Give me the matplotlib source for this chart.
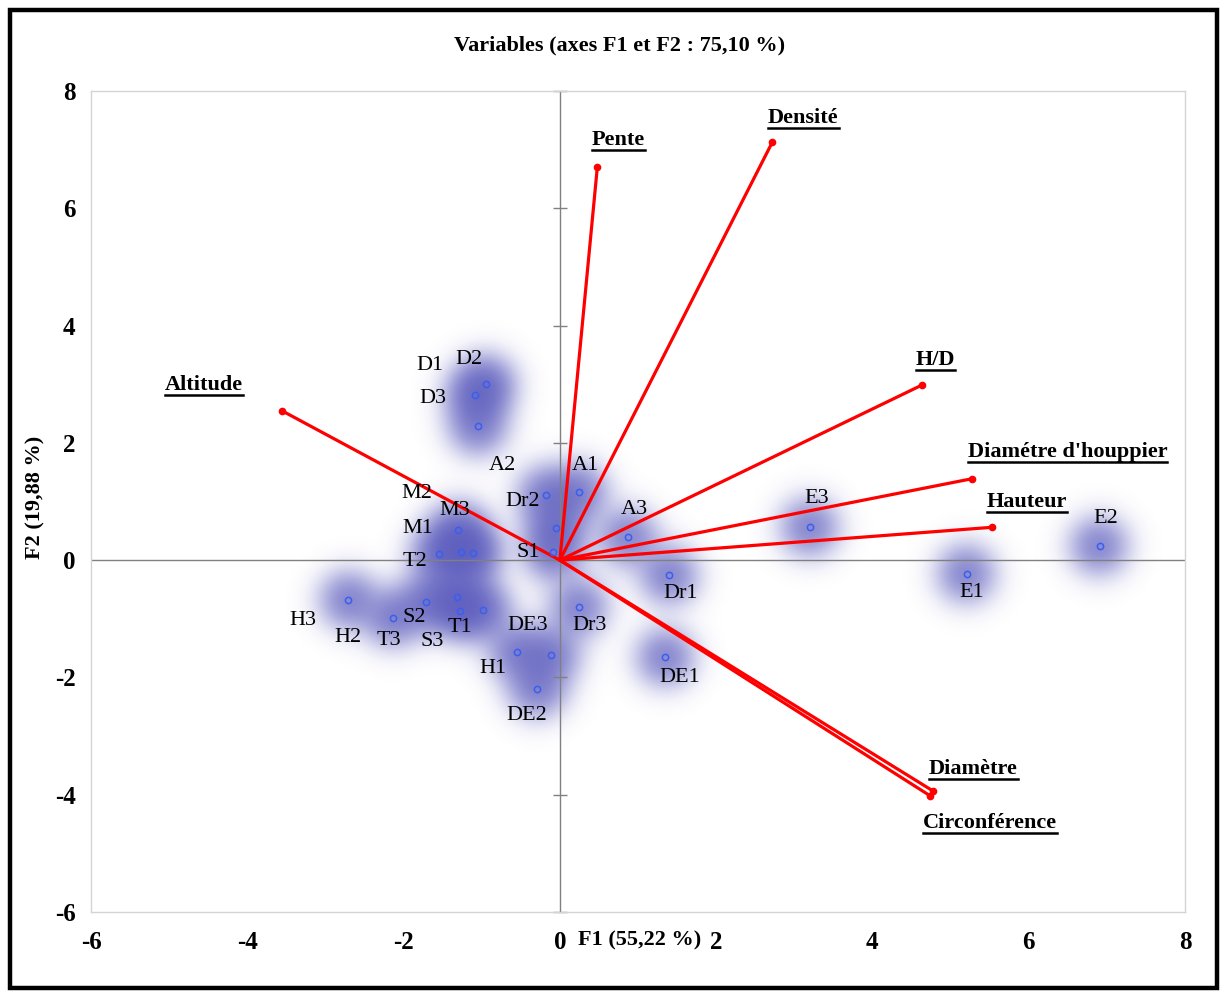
import numpy as np
import matplotlib
matplotlib.use('Agg')
import matplotlib.pyplot as plt
from matplotlib.patches import Rectangle
from matplotlib.lines import Line2D
from matplotlib import transforms

plt.rcParams['font.family'] = ['Liberation Serif', 'DejaVu Serif']
plt.rcParams['axes.unicode_minus'] = False

# Variables (cercle des corrélations, échelle biplot)
var_noms = ['Altitude', 'Pente', 'Densité', 'H/D', "Diamétre d'houppier",
            'Hauteur', 'Diamètre', 'Circonférence']
var_f1 = [-3.56, 0.48, 2.72, 4.64, 5.28, 5.53, 4.78, 4.74]
var_f2 = [2.55, 6.71, 7.13, 2.99, 1.39, 0.56, -3.94, -4.02]

# Observations
obs_noms = ['D2', 'D1', 'D3', 'Dr2', 'A2', 'A1', 'S1', 'M3', 'T2', 'M1', 'M2',
            'H3', 'H2', 'T3', 'S2', 'T1', 'S3', 'H1', 'DE3', 'DE2', 'Dr3',
            'A3', 'Dr1', 'DE1', 'E3', 'E1', 'E2']
obs_f1 = [-0.94, -1.09, -1.05, -0.18, -0.05, 0.24, -0.09, -1.30, -1.55, -1.26, -1.11,
          -2.71, -2.14, -1.71, -1.32, -1.28, -0.98, -0.55, -0.11, -0.29, 0.24,
          0.87, 1.40, 1.35, 3.20, 5.21, 6.91]
obs_f2 = [3.01, 2.82, 2.28, 1.11, 0.54, 1.16, 0.14, 0.51, 0.10, 0.14, 0.12,
          -0.68, -0.99, -0.72, -0.63, -0.86, -0.85, -1.57, -1.61, -2.20, -0.80,
          0.39, -0.26, -1.66, 0.56, -0.23, 0.24]

ticks = [-6, -4, -2, 0, 2, 4, 6, 8]

# décalage des étiquettes (pixels)
var_dec = [(-78, 21), (21, 22), (31, 19), (13, 20), (95, 22), (35, 20), (40, 17), (60, -32)]
obs_dec = [(-17, 24), (-45, 29), (-45, 28), (-23, -6), (-54, 63), (7, 27), (-25, -1),
           (-4, 20), (-24, -7), (-44, 23), (-56, 60), (-45, -20), (-45, -19), (-37, -38),
           (-42, -20), (0, -17), (-51, -32), (-24, -16), (-24, 29), (-10, -26), (11, -18),
           (7, 28), (11, -18), (14, -20), (7, 29), (5, -19), (6, 28)]

fig = plt.figure(figsize=(12.27, 9.98), dpi=100)
ax = fig.add_axes([91 / 1227, 1 - 912 / 998, 1094 / 1227, 821 / 998])
ax.set_xlim(-6, 8)
ax.set_ylim(-6, 8)

# halos bleus flous autour des observations
gx = np.linspace(-6, 8, 550)
gy = np.linspace(-6, 8, 420)
XX, YY = np.meshgrid(gx, gy)
sx = 19 / 78.14
sy = 19 / 58.66
dens = np.zeros_like(XX)
for x, y in zip(obs_f1, obs_f2):
    dens += np.exp(-((XX - x) ** 2 / (2 * sx ** 2) + (YY - y) ** 2 / (2 * sy ** 2)))
img = np.zeros(XX.shape + (4,))
img[..., 0] = 0.30
img[..., 1] = 0.30
img[..., 2] = 0.72
img[..., 3] = 0.92 * (1 - np.exp(-1.2 * dens))
ax.imshow(img, extent=(-6, 8, -6, 8), origin='lower', aspect='auto',
          interpolation='bilinear', zorder=1)

# axes centraux
ax.axhline(0, color='#808080', lw=1, zorder=2)
ax.axvline(0, color='#808080', lw=1, zorder=2)
ax.plot([0] * len(ticks), ticks, ls='none', marker='_', ms=10, color='#808080',
        mew=1, zorder=2, clip_on=False)

# vecteurs des variables
for x, y in zip(var_f1, var_f2):
    ax.plot([0, x], [0, y], color='#ff0000', lw=2.3, solid_capstyle='round', zorder=3)
    ax.plot([x], [y], 'o', color='#ff0000', ms=4.5, zorder=3)

# observations
ax.plot(obs_f1, obs_f2, 'o', ls='none', mfc='none', mec='#3a5ff0', ms=4.5, mew=1.1, zorder=4)
for nom, x, y, (dx, dy) in zip(obs_noms, obs_f1, obs_f2, obs_dec):
    tr = transforms.offset_copy(ax.transData, fig=fig, x=dx, y=dy, units='dots')
    ax.text(x, y, nom, transform=tr, ha='center', va='center', fontsize=16, zorder=5)

var_txt = []
for nom, x, y, (dx, dy) in zip(var_noms, var_f1, var_f2, var_dec):
    tr = transforms.offset_copy(ax.transData, fig=fig, x=dx, y=dy, units='dots')
    t = ax.text(x, y, nom, transform=tr, ha='center', va='baseline', fontsize=16,
                fontweight='bold', zorder=5)
    var_txt.append((t, tr, x, y))

ax.set_xticks(ticks)
ax.set_yticks(ticks)
ax.tick_params(length=0, labelsize=18, pad=14)
ax.tick_params(axis='y', pad=11)
for lab in ax.get_xticklabels() + ax.get_yticklabels():
    lab.set_fontweight('bold')
for s in ax.spines.values():
    s.set_color('#d4d4d4')
    s.set_linewidth(1)

fig.text(620 / 1227, 1 - 45 / 998, 'Variables (axes F1 et F2 : 75,10 %)', ha='center',
         va='center', fontsize=16, fontweight='bold')
fig.text(640 / 1227, 1 - 940 / 998, 'F1 (55,22 %)', ha='center', va='center',
         fontsize=16, fontweight='bold')
fig.text(35 / 1227, 1 - 497 / 998, 'F2 (19,88 %)', ha='center', va='center',
         rotation=90, fontsize=16, fontweight='bold')

# soulignement des noms de variables
fig.canvas.draw()
rend = fig.canvas.get_renderer()
for t, tr, x, y in var_txt:
    bb = t.get_window_extent(rend)
    yb = tr.transform((x, y))[1] - 5
    fig.add_artist(Line2D([bb.x0, bb.x1], [yb, yb], color='black', lw=1.8,
                          transform=transforms.IdentityTransform()))

# cadre noir autour de la figure
fig.add_artist(Rectangle((10 / 1227, 10 / 998), 1207 / 1227, 978 / 998, fill=False,
                         edgecolor='black', lw=3.2, transform=fig.transFigure))

fig.savefig('out.png', dpi=100)
